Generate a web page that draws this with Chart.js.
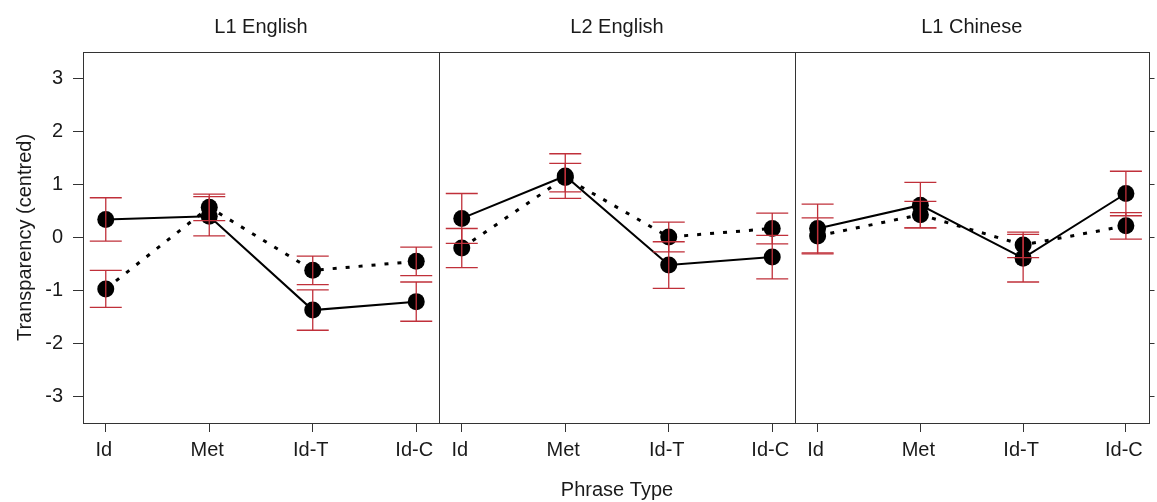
<!DOCTYPE html>
<html>
<head>
<meta charset="utf-8">
<script src="https://cdn.jsdelivr.net/npm/chart.js@4.4.1/dist/chart.umd.min.js"></script>
<style>
  html, body { margin: 0; padding: 0; background: #fff; }
  #wrap { position: relative; width: 1157px; height: 502px; }
  #wrap canvas { position: absolute; left: 0; top: 0; }
</style>
</head>
<body>
<div id="wrap">
  <canvas id="p1" width="1157" height="502"></canvas>
  <canvas id="p2" width="1157" height="502"></canvas>
  <canvas id="p3" width="1157" height="502"></canvas>
</div>
<script>
// categories and tick labels
const phraseTypes = ['Id', 'Met', 'Id-T', 'Id-C'];
const panelNames = ['L1 English', 'L2 English', 'L1 Chinese'];
const yTicks = [-3, -2, -1, 0, 1, 2, 3];

// L1 English
const l1EngSolid = [0.34, 0.40, -1.37, -1.21];
const l1EngSolidErr = [0.41, 0.37, 0.38, 0.37];
const l1EngDotted = [-0.97, 0.57, -0.62, -0.45];
const l1EngDottedErr = [0.35, 0.25, 0.27, 0.27];

// L2 English
const l2EngSolid = [0.36, 1.16, -0.52, -0.37];
const l2EngSolidErr = [0.47, 0.42, 0.44, 0.41];
const l2EngDotted = [-0.20, 1.13, 0.01, 0.17];
const l2EngDottedErr = [0.37, 0.27, 0.28, 0.29];

// L1 Chinese
const l1ChiSolid = [0.17, 0.61, -0.39, 0.83];
const l1ChiSolidErr = [0.46, 0.43, 0.45, 0.42];
const l1ChiDotted = [0.03, 0.43, -0.14, 0.22];
const l1ChiDottedErr = [0.34, 0.25, 0.24, 0.25];

const FONT = "'Liberation Sans', Arial, sans-serif";
const TXT = '#1a1a1a';
const AXIS = '#333';

// error bars on top of the points + frame round each panel
const panelDeco = {
  id: 'panelDeco',
  afterDatasetsDraw(chart) {
    const ctx = chart.ctx;
    const xs = chart.scales.x, ys = chart.scales.y;
    ctx.save();
    ctx.strokeStyle = '#c0303a';
    ctx.lineWidth = 1.3;
    chart.data.datasets.forEach(function(ds) {
      ds.err.forEach(function(e, i) {
        const m = ds.data[i].y;
        const x = xs.getPixelForValue(ds.data[i].x);
        const y1 = ys.getPixelForValue(m + e);
        const y2 = ys.getPixelForValue(m - e);
        ctx.beginPath();
        ctx.moveTo(x, y1); ctx.lineTo(x, y2);
        ctx.moveTo(x - 16, y1); ctx.lineTo(x + 16, y1);
        ctx.moveTo(x - 16, y2); ctx.lineTo(x + 16, y2);
        ctx.stroke();
      });
    });
    ctx.restore();
  },
  afterDraw(chart) {
    const a = chart.chartArea;
    const ctx = chart.ctx;
    ctx.save();
    ctx.strokeStyle = AXIS;
    ctx.lineWidth = 1;
    ctx.strokeRect(Math.round(a.left) + 0.5, Math.round(a.top) + 0.5,
      Math.round(a.right - a.left), Math.round(a.bottom - a.top));
    ctx.restore();
  }
};

function points(vals) {
  return vals.map(function(v, i) { return { x: i + 1, y: v }; });
}

function makePanel(canvasId, idx, solid, solidErr, dotted, dottedErr, pad) {
  const scales = {
    x: {
      type: 'linear', position: 'bottom', min: 0.78, max: 4.22,
      afterBuildTicks: function(s) { s.ticks = phraseTypes.map(function(c, i) { return { value: i + 1 }; }); },
      afterFit: function(s) { s.height = 79; },
      ticks: {
        callback: function(v) { return phraseTypes[v - 1]; },
        font: { family: FONT, size: 20 }, color: TXT, padding: 6, labelOffset: -2,
        maxRotation: 0, autoSkip: false
      },
      grid: { drawOnChartArea: false, tickLength: 9, color: AXIS },
      border: { display: false },
      title: {
        display: idx === 1, text: 'Phrase Type', color: TXT,
        font: { family: FONT, size: 20 }, padding: { top: 0, bottom: 0 }
      }
    },
    top: {
      type: 'linear', position: 'top',
      afterFit: function(s) { s.height = 52; },
      ticks: { display: false },
      grid: { display: false },
      border: { display: false },
      title: {
        display: true, text: panelNames[idx], color: TXT,
        font: { family: FONT, size: 20 }, padding: { top: 15, bottom: 0 }
      }
    },
    y: {
      type: 'linear', position: 'left', min: -3.5, max: 3.5,
      display: idx === 0,
      afterBuildTicks: function(s) { s.ticks = yTicks.map(function(v) { return { value: v }; }); },
      afterFit: function(s) { s.width = idx === 0 ? 83 : 0; },
      ticks: { font: { family: FONT, size: 20 }, color: TXT, padding: 10 },
      grid: { drawOnChartArea: false, tickLength: 10, color: AXIS },
      border: { display: false },
      title: {
        display: true, text: 'Transparency (centred)', color: TXT,
        font: { family: FONT, size: 20 }, padding: { top: 13, bottom: 0 }
      }
    }
  };
  if (idx === 2) {
    scales.y2 = {
      type: 'linear', position: 'right', min: -3.5, max: 3.5,
      afterBuildTicks: function(s) { s.ticks = yTicks.map(function(v) { return { value: v }; }); },
      afterFit: function(s) { s.width = 5; },
      ticks: { display: false },
      grid: { drawOnChartArea: false, tickLength: 6, color: AXIS },
      border: { display: false }
    };
  }
  return new Chart(document.getElementById(canvasId), {
    type: 'line',
    data: {
      datasets: [{
        label: 'dotted',
        data: points(dotted),
        err: dottedErr,
        borderColor: '#000',
        borderWidth: 3,
        borderDash: [4, 9],
        pointRadius: 8.5,
        pointBackgroundColor: '#000',
        pointBorderWidth: 0,
        tension: 0
      }, {
        label: 'solid',
        data: points(solid),
        err: solidErr,
        borderColor: '#000',
        borderWidth: 2,
        pointRadius: 8.5,
        pointBackgroundColor: '#000',
        pointBorderWidth: 0,
        tension: 0
      }]
    },
    options: {
      responsive: false,
      animation: false,
      layout: { padding: pad },
      plugins: { legend: { display: false }, tooltip: { enabled: false } },
      scales: scales
    },
    plugins: [panelDeco]
  });
}

makePanel('p1', 0, l1EngSolid, l1EngSolidErr, l1EngDotted, l1EngDottedErr, { left: 0, right: 718, top: 0, bottom: 0 });
makePanel('p2', 1, l2EngSolid, l2EngSolidErr, l2EngDotted, l2EngDottedErr, { left: 439, right: 362, top: 0, bottom: 0 });
makePanel('p3', 2, l1ChiSolid, l1ChiSolidErr, l1ChiDotted, l1ChiDottedErr, { left: 795, right: 0, top: 0, bottom: 0 });
</script>
</body>
</html>
